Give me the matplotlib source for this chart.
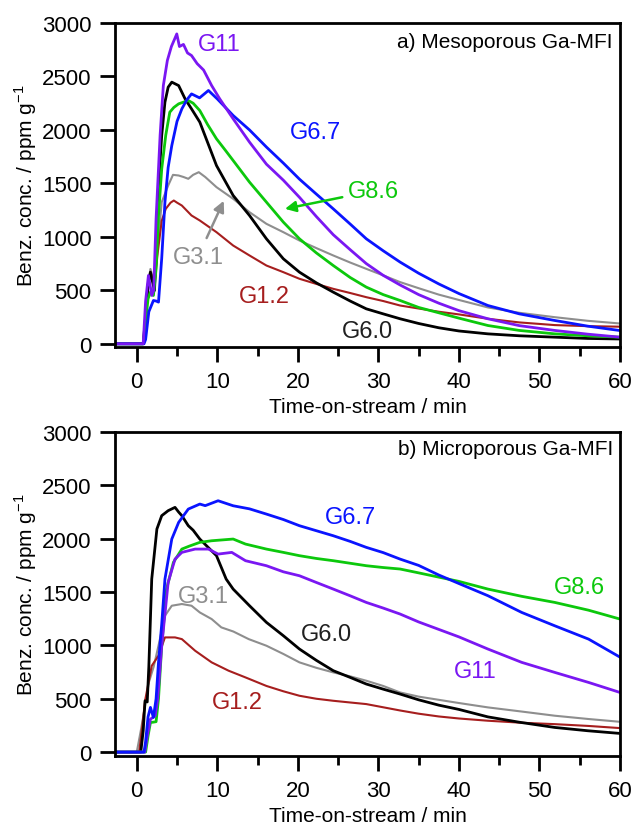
import matplotlib
matplotlib.use("Agg")
import matplotlib.pyplot as plt

plt.rcParams['font.family'] = ['Liberation Sans', 'DejaVu Sans']

# ---------------- panel a) mesoporous ----------------
a_t_G11 = [-3, 0.8, 1.1, 1.45, 1.87, 2.1, 2.4, 2.9, 3.3, 3.8, 4.3, 4.7, 4.97, 5.3, 5.8, 6.3, 6.8, 7.5, 8.3, 9.3,
           10.3, 11.97, 14.0, 16.1, 18.2, 20.2, 22.3, 24.4, 26.5, 28.5, 30.6, 32.7, 35, 37.5, 40, 43.6, 47.5, 51.9, 56, 60]
a_v_G11 = [0, 0, 400, 639, 452, 500, 1169, 1950, 2415, 2650, 2780, 2850, 2898, 2780, 2800, 2720, 2696, 2620, 2560, 2415,
           2291, 2104, 1886, 1680, 1530, 1370, 1190, 1020, 880, 750, 640, 550, 460, 380, 310, 234, 170, 125, 90, 62]

a_t_G67 = [-3, 0.9, 1.1, 1.5, 2.07, 2.4, 2.7, 3.1, 3.5, 3.9, 4.35, 5.0, 5.6, 6.2, 6.8, 7.8, 8.9, 10, 11.97, 14.0,
           16.1, 18.2, 20.2, 22.3, 24.4, 26.5, 28.5, 30.6, 32.7, 35, 37.5, 40, 43.6, 47.5, 51.9, 56, 60]
a_v_G67 = [0, 0, 40, 300, 405, 400, 390, 800, 1325, 1650, 1854, 2080, 2197, 2280, 2337, 2300, 2369, 2290, 2135, 2000,
           1840, 1690, 1540, 1400, 1262, 1120, 982, 870, 764, 660, 560, 470, 358, 280, 218, 165, 124]

a_t_G86 = [-3, 0.8, 1.1, 1.4, 1.7, 2.07, 2.4, 2.7, 3.1, 3.6, 4.1, 4.6, 5.2, 5.8, 6.4, 7.0, 7.83, 8.8, 9.9, 11.0,
           11.97, 14.0, 16.1, 18.2, 20.2, 22.3, 24.4, 26.5, 28.5, 30.6, 32.7, 35, 37.5, 40, 43.6, 47.5, 51.9, 56, 60]
a_v_G86 = [0, 0, 200, 420, 483, 452, 700, 1200, 1636, 1950, 2166, 2210, 2244, 2260, 2275, 2250, 2181, 2050, 1917, 1810,
           1714, 1512, 1325, 1138, 982, 850, 732, 620, 530, 460, 405, 340, 290, 240, 171, 125, 93, 75, 62]

a_t_G60 = [-3, 0.8, 1.1, 1.4, 1.7, 2.2, 2.45, 2.7, 3.1, 3.5, 3.9, 4.35, 4.8, 5.2, 6.0, 6.8, 7.83, 9.9, 11.97, 14.0,
           16.1, 18.2, 20.2, 22.3, 24.4, 26.5, 28.5, 30.6, 32.7, 35, 37.5, 40, 43.6, 47.5, 51.9, 56, 60]
a_v_G60 = [0, 0, 250, 550, 670, 498, 900, 1480, 1950, 2260, 2400, 2447, 2430, 2415, 2291, 2197, 2073, 1667, 1387, 1200,
           982, 795, 670, 570, 483, 400, 327, 280, 234, 190, 150, 120, 93, 75, 62, 50, 45]

a_t_G31 = [-3, 0.8, 1.1, 1.4, 1.7, 2.2, 2.6, 3.1, 3.9, 4.5, 5.2, 5.8, 6.4, 7.0, 7.7, 8.5, 9.9, 11.97, 14.0, 16.1,
           18.2, 20.2, 22.3, 24.4, 26.5, 28.5, 30.6, 32.7, 35, 37.5, 40, 43.6, 47.5, 51.9, 56, 60]
a_v_G31 = [0, 0, 250, 550, 700, 560, 900, 1325, 1480, 1580, 1574, 1560, 1543, 1580, 1605, 1560, 1465, 1356, 1231, 1122,
           1044, 966, 895, 826, 760, 701, 640, 577, 520, 460, 410, 340, 290, 249, 215, 190]

a_t_G12 = [-3, 0.8, 1.1, 1.4, 1.7, 2.2, 2.6, 3.1, 3.6, 4.2, 4.6, 5.0, 5.6, 6.8, 7.83, 9.9, 11.97, 14.0, 16.1, 18.2,
           20.2, 22.3, 24.4, 26.5, 28.5, 30.6, 32.7, 35, 37.5, 40, 43.6, 47.5, 51.9, 56, 60]
a_v_G12 = [0, 0, 250, 550, 670, 560, 850, 1150, 1262, 1320, 1340, 1320, 1293, 1200, 1153, 1044, 919, 826, 732, 670,
           608, 560, 514, 475, 436, 400, 358, 330, 300, 275, 234, 200, 175, 165, 160]

# ---------------- panel b) microporous ----------------
b_t_G60 = [-3, 0.5, 0.8, 1.03, 1.3, 1.5, 1.86, 2.5, 3.1, 3.9, 4.75, 5.2, 5.6, 6.4, 7.0, 7.83, 9.9, 11.1, 11.97, 14.0,
           16.1, 18.2, 20.2, 22.3, 24.4, 26.5, 28.5, 30.6, 32.7, 35, 37.5, 40, 43.6, 47.5, 51.9, 56, 60]
b_v_G60 = [0, 0, 200, 481, 470, 800, 1622, 2091, 2216, 2263, 2294, 2250, 2216, 2122, 2080, 1997, 1841, 1622, 1528, 1372,
           1216, 1091, 966, 860, 763, 700, 638, 590, 544, 490, 440, 400, 330, 280, 231, 200, 175]

b_t_G67 = [-3, 0.9, 1.1, 1.4, 1.7, 2.07, 2.4, 2.7, 3.1, 3.5, 4.35, 5.2, 6.4, 7.83, 8.5, 10.1, 11.97, 14.0, 16.1, 18.2,
           20.2, 22.3, 24.4, 26.5, 28.5, 30.6, 32.7, 35, 37.5, 40, 43.6, 47.8, 51.9, 56.1, 60]
b_v_G67 = [0, 0, 100, 330, 419, 325, 500, 841, 1200, 1622, 1997, 2153, 2278, 2325, 2310, 2356, 2309, 2280, 2231, 2180,
           2122, 2075, 2028, 1975, 1919, 1870, 1809, 1750, 1660, 1580, 1466, 1309, 1184, 1059, 890]

b_t_G86 = [-3, 1.1, 1.4, 1.7, 2.0, 2.4, 2.7, 3.1, 3.7, 4.55, 5.6, 6.5, 7.83, 9.3, 11.97, 13.5, 16.1, 18.2, 20.2, 22.3,
           24.4, 26.5, 28.5, 30.6, 32.7, 35, 37.5, 40, 43.6, 47.8, 51.9, 56.1, 60]
b_v_G86 = [0, 0, 150, 278, 280, 285, 500, 997, 1528, 1778, 1903, 1930, 1966, 1981, 1997, 1950, 1903, 1872, 1841, 1815,
           1794, 1770, 1747, 1730, 1716, 1680, 1640, 1600, 1528, 1460, 1403, 1330, 1247]

b_t_G11 = [-3, 1.0, 1.3, 1.7, 2.3, 2.6, 3.1, 3.9, 4.75, 5.6, 7.25, 7.83, 8.9, 10.1, 11.8, 13.5, 16.1, 18.2, 20.2, 22.3,
           24.4, 26.5, 28.5, 30.6, 32.7, 35, 37.5, 40, 43.6, 47.8, 51.9, 56.1, 60]
b_v_G11 = [0, 0, 150, 309, 341, 500, 997, 1591, 1809, 1872, 1903, 1903, 1903, 1856, 1872, 1794, 1747, 1690, 1653, 1590,
           1528, 1465, 1403, 1350, 1294, 1220, 1150, 1080, 966, 841, 747, 653, 559]

b_t_G31 = [-3, 0.0, 0.5, 1.0, 1.5, 2.1, 2.7, 3.5, 4.35, 5.6, 6.8, 7.83, 9.3, 10.5, 12.0, 13.9, 16.1, 18.2, 20.2, 22.3,
           24.4, 26.5, 28.5, 30.6, 32.7, 35, 37.5, 40, 43.6, 47.8, 51.9, 56.1, 60]
b_v_G31 = [0, 0, 200, 420, 653, 800, 997, 1278, 1372, 1388, 1372, 1309, 1247, 1169, 1130, 1059, 997, 920, 841, 790,
           747, 710, 669, 620, 559, 520, 490, 460, 419, 380, 341, 310, 284]

b_t_G12 = [-3, 0.3, 0.7, 1.03, 1.86, 2.7, 3.5, 4.75, 5.6, 7.25, 9.3, 11.4, 13.5, 16.1, 18.2, 20.2, 22.3, 24.4, 26.5,
           28.5, 30.6, 32.7, 35, 37.5, 40, 43.6, 47.8, 51.9, 56.1, 60]
b_v_G12 = [0, 0, 250, 481, 809, 903, 1075, 1075, 1059, 950, 841, 763, 700, 620, 570, 528, 500, 481, 465,
           450, 420, 390, 360, 334, 315, 294, 275, 262, 245, 225]

c_purple = '#7A17F2'
c_blue = '#0A14FF'
c_green = '#0CC80C'
c_black = '#000000'
c_gray = '#8E8E8E'
c_red = '#A61E1E'

fig = plt.figure(figsize=(6.34, 8.28), dpi=100)
axa = fig.add_axes([0.1814, 0.5797, 0.7965, 0.3913])
axb = fig.add_axes([0.1814, 0.0857, 0.7965, 0.3913])

# gray/red under the noisy ones
axa.plot(a_t_G31, a_v_G31, color=c_gray, lw=1.5)
axa.plot(a_t_G12, a_v_G12, color=c_red, lw=1.5)
axa.plot(a_t_G60, a_v_G60, color=c_black, lw=2.0)
axa.plot(a_t_G86, a_v_G86, color=c_green, lw=2.0)
axa.plot(a_t_G67, a_v_G67, color=c_blue, lw=2.0)
axa.plot(a_t_G11, a_v_G11, color=c_purple, lw=2.0)

axb.plot(b_t_G31, b_v_G31, color=c_gray, lw=1.5)
axb.plot(b_t_G12, b_v_G12, color=c_red, lw=1.5)
axb.plot(b_t_G60, b_v_G60, color=c_black, lw=2.0)
axb.plot(b_t_G86, b_v_G86, color=c_green, lw=2.0)
axb.plot(b_t_G11, b_v_G11, color=c_purple, lw=2.0)
axb.plot(b_t_G67, b_v_G67, color=c_blue, lw=2.0)

for ax in (axa, axb):
    ax.set_xlim(-2.7, 60)
    ax.set_xticks(range(0, 61, 10))
    ax.set_xticks(range(5, 60, 10), minor=True)
    ax.set_yticks(range(0, 3001, 500))
    ax.tick_params(axis='both', which='major', direction='out', length=11, width=2, labelsize=16, pad=6)
    ax.tick_params(axis='x', which='minor', direction='out', length=6.5, width=2)
    for s in ax.spines.values():
        s.set_linewidth(2)
    ax.set_xlabel('Time-on-stream / min', fontsize=15, labelpad=4)
    ax.set_ylabel('Benz. conc. / ppm g$^{\\mathregular{-1}}$', fontsize=15, labelpad=2)
axa.set_ylim(-30, 3000)
axb.set_ylim(-37, 3000)

fs = 17
axa.text(0.986, 0.944, 'a) Mesoporous Ga-MFI', transform=axa.transAxes, ha='right', va='center', fontsize=15)
axa.text(10.3, 2805, 'G11', color=c_purple, ha='center', va='center', fontsize=fs)
axa.text(22.2, 1982, 'G6.7', color=c_blue, ha='center', va='center', fontsize=fs)
axa.annotate('G8.6', xy=(18.4, 1262), xytext=(26.2, 1430), color=c_green, ha='left', va='center', fontsize=fs,
             arrowprops=dict(arrowstyle='-|>', color=c_green, lw=1.8, mutation_scale=16, shrinkA=2, shrinkB=0))
axa.annotate('G3.1', xy=(10.8, 1337), xytext=(7.6, 813), color=c_gray, ha='center', va='center', fontsize=fs,
             arrowprops=dict(arrowstyle='-|>', color=c_gray, lw=1.8, mutation_scale=16, shrinkA=4, shrinkB=0))
axa.text(15.9, 449, 'G1.2', color=c_red, ha='center', va='center', fontsize=fs)
axa.text(28.6, 122, 'G6.0', color='#202020', ha='center', va='center', fontsize=fs)

axb.text(0.986, 0.948, 'b) Microporous Ga-MFI', transform=axb.transAxes, ha='right', va='center', fontsize=15)
axb.text(26.5, 2203, 'G6.7', color=c_blue, ha='center', va='center', fontsize=fs)
axb.text(55.0, 1547, 'G8.6', color=c_green, ha='center', va='center', fontsize=fs)
axb.text(42.0, 759, 'G11', color=c_purple, ha='center', va='center', fontsize=fs)
axb.text(23.5, 1106, 'G6.0', color='#202020', ha='center', va='center', fontsize=fs)
axb.text(8.3, 1463, 'G3.1', color=c_gray, ha='center', va='center', fontsize=fs)
axb.text(12.5, 469, 'G1.2', color=c_red, ha='center', va='center', fontsize=fs)

fig.savefig('out.png', dpi=100)
